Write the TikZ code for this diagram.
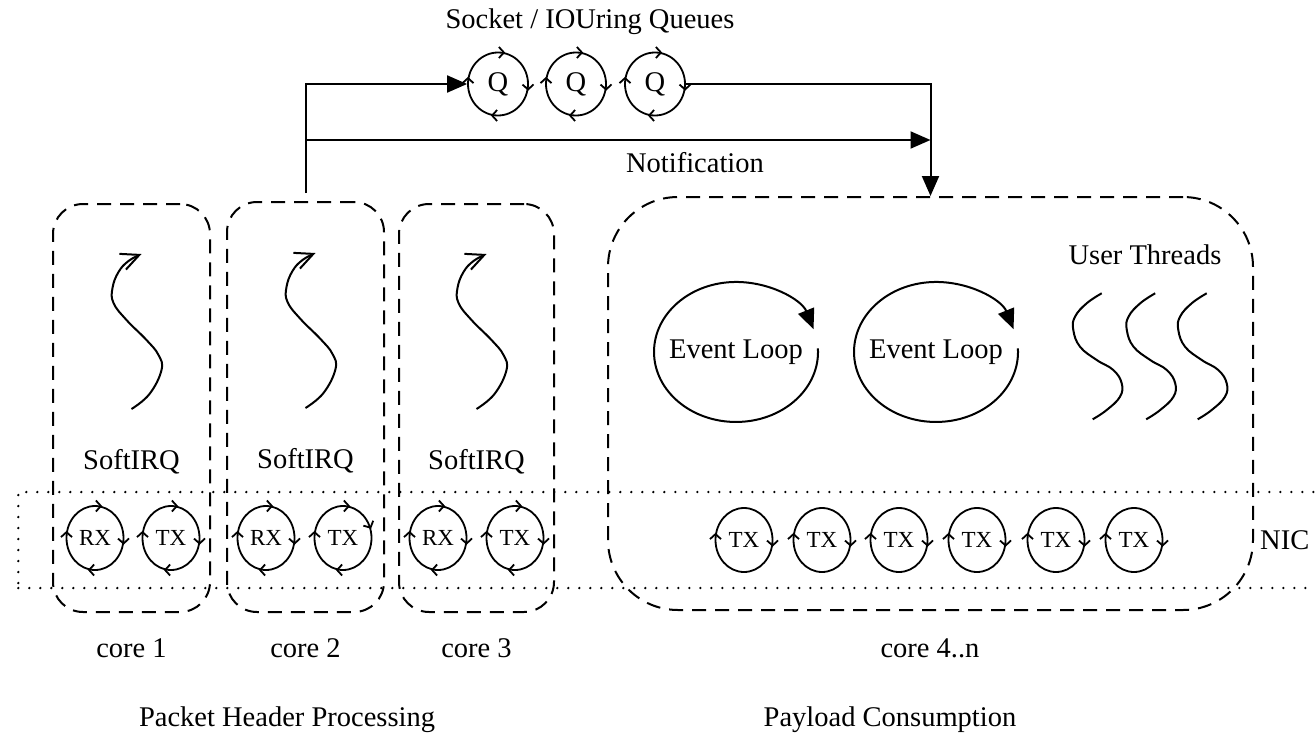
\documentclass[tikz,border=0pt]{standalone}
\usepackage{fontspec}
\setmainfont{Liberation Serif}
\usetikzlibrary{arrows.meta,shapes.geometric,decorations.markings}

\tikzset{
  lbl/.style={font=\fontsize{28.5}{31}\selectfont, inner sep=0pt},
  corebox/.style={draw, line width=2pt, dash pattern=on 14pt off 9pt, rounded corners=30pt, inner sep=0pt},
  nicband/.style={draw, line width=2.6pt, line cap=round, dash pattern=on 0pt off 11pt, inner sep=0pt},
  ring/.style={ellipse, draw, line width=1.8pt, inner sep=0pt, minimum width=57pt, minimum height=64pt, font=\fontsize{23}{25}\selectfont},
  qring/.style={ring, minimum width=60pt, minimum height=63pt, font=\fontsize{28.5}{31}\selectfont},
  ringfour/.style={postaction={decorate, decoration={markings,
      mark=at position 0.002 with {\arrow{<}},
      mark=at position 0.25 with {\arrow{<}},
      mark=at position 0.5 with {\arrow{<}},
      mark=at position 0.75 with {\arrow{<}}}}},
  ringskew/.style={postaction={decorate, decoration={markings,
      mark=at position 0.085 with {\arrow{<}},
      mark=at position 0.25 with {\arrow{<}},
      mark=at position 0.5 with {\arrow{<}},
      mark=at position 0.75 with {\arrow{<}}}}},
  ringtwo/.style={postaction={decorate, decoration={markings,
      mark=at position 0.002 with {\arrow{<}},
      mark=at position 0.5 with {\arrow{<}}}}},
  flow/.style={line width=2pt, -{Triangle[length=20pt,width=17pt]}},
  squig/.style={line width=2pt, -{Straight Barb[length=18pt,width=17pt]}},
  thread/.style={line width=2pt},
  >={Straight Barb[length=5pt,width=11pt]},
}

\begin{document}
\begin{tikzpicture}[x=1pt,y=-1pt]
\useasboundingbox (0,0) rectangle (1315,739);

% NIC band
\node[nicband, minimum width=1320pt, minimum height=96pt, anchor=west] (nic) at (17,540) {};
\node[lbl, anchor=west] (niclabel) at (1260,540) {NIC};

% cores
\node[corebox, minimum width=157pt, minimum height=408pt] (core1) at (131.5,408) {};
\node[corebox, minimum width=157pt, minimum height=410pt] (core2) at (305.5,407) {};
\node[corebox, minimum width=155pt, minimum height=408pt] (core3) at (476.5,408) {};
\node[corebox, rounded corners=70pt, minimum width=645pt, minimum height=413pt] (core4) at (930.5,403.5) {};

% RX / TX rings
\node[ring, ringfour] (rx1) at (95,538) {RX};
\node[ring, ringfour] (tx1) at (171,538) {TX};
\node[ring, ringfour] (rx2) at (266,538) {RX};
\node[ring, ringskew] (tx2) at (343,538) {TX};
\node[ring, ringfour] (rx3) at (438,538) {RX};
\node[ring, ringfour] (tx3) at (515,538) {TX};
\foreach \x [count=\i] in {744,822,899,977,1056,1134}
  \node[ring, ringtwo] (txn\i) at (\x,540) {TX};

% socket queues
\node[lbl] (title) at (590,22) {Socket / IOUring Queues};
\node[qring, ringfour] (q1) at (498,84) {Q};
\node[qring, ringfour] (q2) at (576,84) {Q};
\node[qring, ringfour] (q3) at (655,84) {Q};

% softirq threads
\foreach \c in {core1,core2,core3}{
  \draw[squig, shift={(\c.center)}] plot[smooth, tension=0.7] coordinates
    {(0,1) (18,-14) (30,-38) (27,-53) (15,-68) (-5,-88) (-18,-105) (-19,-120) (-13,-136) (-3,-147) (10,-154)};
  \node[lbl] (sirq-\c) at ([yshift=-54pt]\c.center) {SoftIRQ};
}

% event loops
\node[lbl] (el1) at (736,352) {Event Loop};
\node[lbl] (el2) at (936,352) {Event Loop};
\foreach \e in {el1,el2}
  \draw[flow] (\e.center) ++(81.9,-3.7) arc[start angle=-3, end angle=341, x radius=82, y radius=70];

% user threads
\node[lbl] (ut) at (1145,255) {User Threads};
\foreach \dx in {0,53.5,105}
  \draw[thread, shift={(\dx,0)}] plot[smooth, tension=0.7] coordinates
    {(1101.7,293.3) (1086.7,303.3) (1075,316.7) (1073.3,330) (1080,346.7) (1096.7,360) (1113.3,370) (1121.7,383.3) (1120,396.7) (1106.7,410) (1092.7,419.3)};

% connectors
\draw[flow] ([yshift=8pt]core2.north) |- (q1.west);
\draw[flow] (q3.east) -| (core4.north);
\coordinate (tap) at (core2.north |- 0,140);
\draw[flow] (tap) -- (tap -| core4.north);
\node[lbl] (notif) at (695,163) {Notification};

% captions
\node[lbl] (c1) at (131.5,648) {core 1};
\node[lbl] (c2) at (305.5,648) {core 2};
\node[lbl] (c3) at (476.5,648) {core 3};
\node[lbl] (c4) at (930,648) {core 4..n};
\node[lbl] (php) at (287,720) {Packet Header Processing};
\node[lbl] (pc) at (890,720) {Payload Consumption};
\end{tikzpicture}
\end{document}
